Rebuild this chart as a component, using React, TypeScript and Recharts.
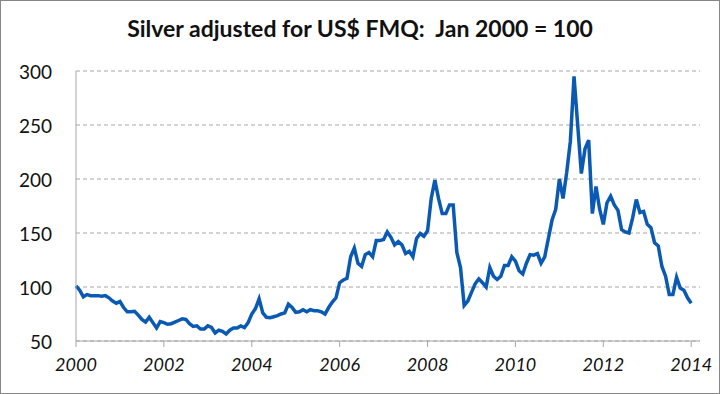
import { LineChart, Line, XAxis, YAxis, CartesianGrid } from "recharts";

// monthly index, Jan 2000 = 100 (Jan 2000 .. Jan 2014)
const values2000 = [101, 97, 91, 93, 92, 92, 92, 91.5, 92, 90, 87, 85];
const values2001 = [86.5, 81, 77, 77, 77.5, 74, 70, 67.5, 72, 67, 62, 68];
const values2002 = [67, 65.5, 66, 67.5, 69, 70.5, 70, 66, 63.5, 64, 61, 61];
const values2003 = [64, 62.5, 57.5, 60, 59, 56.5, 60, 62, 62, 64, 62.5, 67];
const values2004 = [75, 80, 89, 76, 72, 71.5, 72.5, 73.5, 75, 76, 84, 81];
const values2005 = [76.5, 77, 79, 77, 79, 78, 78, 77, 75, 81, 86, 90];
const values2006 = [104, 106.5, 108, 128, 136, 122, 119, 130, 132, 128, 143, 143];
const values2007 = [144, 151, 146, 139, 142, 139, 131, 133, 128, 145, 149.5, 147];
const values2008 = [152, 182, 199, 182, 168, 168, 176, 176, 132, 118, 83, 87];
const values2009 = [95, 103, 107.5, 104, 100, 118, 110, 107, 110, 120, 120, 128];
const values2010 = [124, 115, 112, 122, 130, 129.5, 131, 122, 128, 145, 162, 172];
const values2011 = [200, 182, 206, 235, 295, 250, 205, 228, 236, 168, 193, 172];
const values2012 = [158, 178, 184, 176, 171, 153, 151, 150, 164, 181, 169, 170];
const values2013 = [158, 155, 141, 138, 119, 110, 93, 93, 109, 99, 97, 90];
const values2014 = [85];

const startYear = 2000;
const yearTicks = [2000, 2002, 2004, 2006, 2008, 2010, 2012, 2014];
const valueTicks = [50, 100, 150, 200, 250, 300];

const series = [
  ...values2000, ...values2001, ...values2002, ...values2003, ...values2004,
  ...values2005, ...values2006, ...values2007, ...values2008, ...values2009,
  ...values2010, ...values2011, ...values2012, ...values2013, ...values2014,
];

const data = series.map((v, i) => ({ t: startYear + i / 12, silver: v }));

const FONT = "Lato, 'Open Sans', sans-serif";

const YTick = ({ x, y, payload }: any) => (
  <text x={x} y={y} textAnchor="end" dominantBaseline="central" fontSize={19} fontFamily={FONT} fill="#111">
    {payload.value}
  </text>
);

const XTick = ({ x, y, payload }: any) => (
  <text x={x} y={y + 17} textAnchor="middle" dominantBaseline="central" fontSize={18} fontStyle="italic" fontFamily={FONT} fill="#111">
    {payload.value}
  </text>
);

export default function App() {
  return (
    <div
      style={{
        position: "fixed",
        left: 0,
        top: 0,
        width: 720,
        height: 394,
        background: "#fff",
        border: "1px solid #868686",
        boxSizing: "border-box",
      }}
    >
      <div
        style={{
          position: "absolute",
          left: 0,
          top: 13,
          width: 718,
          textAlign: "center",
          fontFamily: FONT,
          fontWeight: 700,
          fontSize: 23,
          whiteSpace: "pre",
          color: "#111",
        }}
      >
        {"Silver adjusted for US$ FMQ:  Jan 2000 = 100"}
      </div>
      <LineChart
        width={718}
        height={392}
        data={data}
        margin={{ top: 70, right: 19, left: 0, bottom: 12 }}
      >
        <CartesianGrid vertical={false} stroke="#a6a6a6" strokeDasharray="4 3" />
        <XAxis
          type="number"
          dataKey="t"
          domain={[2000, 2014.2]}
          ticks={yearTicks}
          height={40}
          stroke="#a6a6a6"
          tickSize={6}
          tickMargin={0}
          tick={<XTick />}
          interval={0}
        />
        <YAxis
          domain={[50, 300]}
          ticks={valueTicks}
          width={75}
          stroke="#a6a6a6"
          tickLine={false}
          tickSize={0}
          tickMargin={24}
          tick={<YTick />}
          interval={0}
        />
        <Line
          type="linear"
          dataKey="silver"
          stroke="#0a5ab4"
          strokeWidth={3.5}
          dot={false}
          isAnimationActive={false}
        />
      </LineChart>
    </div>
  );
}
